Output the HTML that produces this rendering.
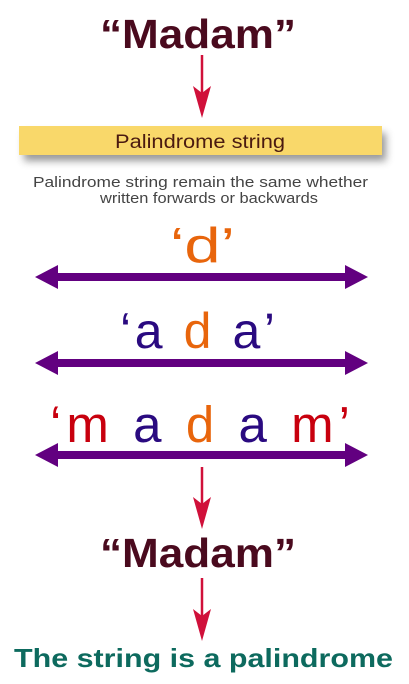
<!DOCTYPE html>
<html><head><meta charset="utf-8"><style>
html,body{margin:0;padding:0;background:#fff;}
svg{display:block;}
text{font-family:"Liberation Sans",sans-serif;}
</style></head><body>
<svg width="409" height="684" viewBox="0 0 409 684" xmlns="http://www.w3.org/2000/svg">
<defs>
<filter id="sh" x="-10%" y="-50%" width="120%" height="250%"><feGaussianBlur stdDeviation="4"/></filter>
</defs>
<text x="100" y="48" font-size="41" font-weight="bold" fill="#4a0a1e" textLength="196" lengthAdjust="spacingAndGlyphs">“Madam”</text>
<g fill="#d0103a" stroke="#d0103a">
<line x1="202" y1="55" x2="202" y2="100" stroke-width="2.5"/>
<path d="M193 86 L202 93 L211 86 L202 118 Z" stroke="none"/>
<line x1="202" y1="467" x2="202" y2="510" stroke-width="2.5"/>
<path d="M193 497 L202 504 L211 497 L202 529 Z" stroke="none"/>
<line x1="202" y1="578" x2="202" y2="622" stroke-width="2.5"/>
<path d="M193 609 L202 616 L211 609 L202 641 Z" stroke="none"/>
</g>
<rect x="24" y="133" width="362" height="28" fill="#555" opacity="0.6" filter="url(#sh)"/>
<rect x="19" y="126" width="363" height="29" fill="#f9d86a"/>
<text x="115" y="148" font-size="19" fill="#4a1a10" textLength="170" lengthAdjust="spacingAndGlyphs">Palindrome string</text>
<text x="33" y="187" font-size="15" fill="#444" textLength="335" lengthAdjust="spacingAndGlyphs">Palindrome string remain the same whether</text>
<text x="100" y="203" font-size="15" fill="#444" textLength="218" lengthAdjust="spacingAndGlyphs">written forwards or backwards</text>
<text x="170" y="262" font-size="49" fill="#e8650c" textLength="65" lengthAdjust="spacingAndGlyphs">‘d’</text>
<text x="120" y="348" font-size="50" fill="#2a0a80" textLength="155" lengthAdjust="spacing"><tspan>‘a </tspan><tspan fill="#e8650c">d</tspan><tspan> a’</tspan></text>
<text x="50" y="442" font-size="51" fill="#c8000e" textLength="300" lengthAdjust="spacing"><tspan>‘m </tspan><tspan fill="#2a0a80">a </tspan><tspan fill="#e8650c">d</tspan><tspan fill="#2a0a80"> a</tspan><tspan> m’</tspan></text>
<g fill="#620080">
<path d="M35 277 L58 265 L58 273 L345 273 L345 265 L368 277 L345 289 L345 281 L58 281 L58 289 Z"/>
<path d="M35 363 L58 351 L58 359 L345 359 L345 351 L368 363 L345 375 L345 367 L58 367 L58 375 Z"/>
<path d="M35 455 L58 443 L58 451 L345 451 L345 443 L368 455 L345 467 L345 459 L58 459 L58 467 Z"/>
</g>
<text x="100" y="567" font-size="41" font-weight="bold" fill="#4a0a1e" textLength="196" lengthAdjust="spacingAndGlyphs">“Madam”</text>
<text x="14" y="667" font-size="26" font-weight="bold" fill="#0d6a5e" textLength="379" lengthAdjust="spacingAndGlyphs">The string is a palindrome</text>
</svg>
</body></html>
